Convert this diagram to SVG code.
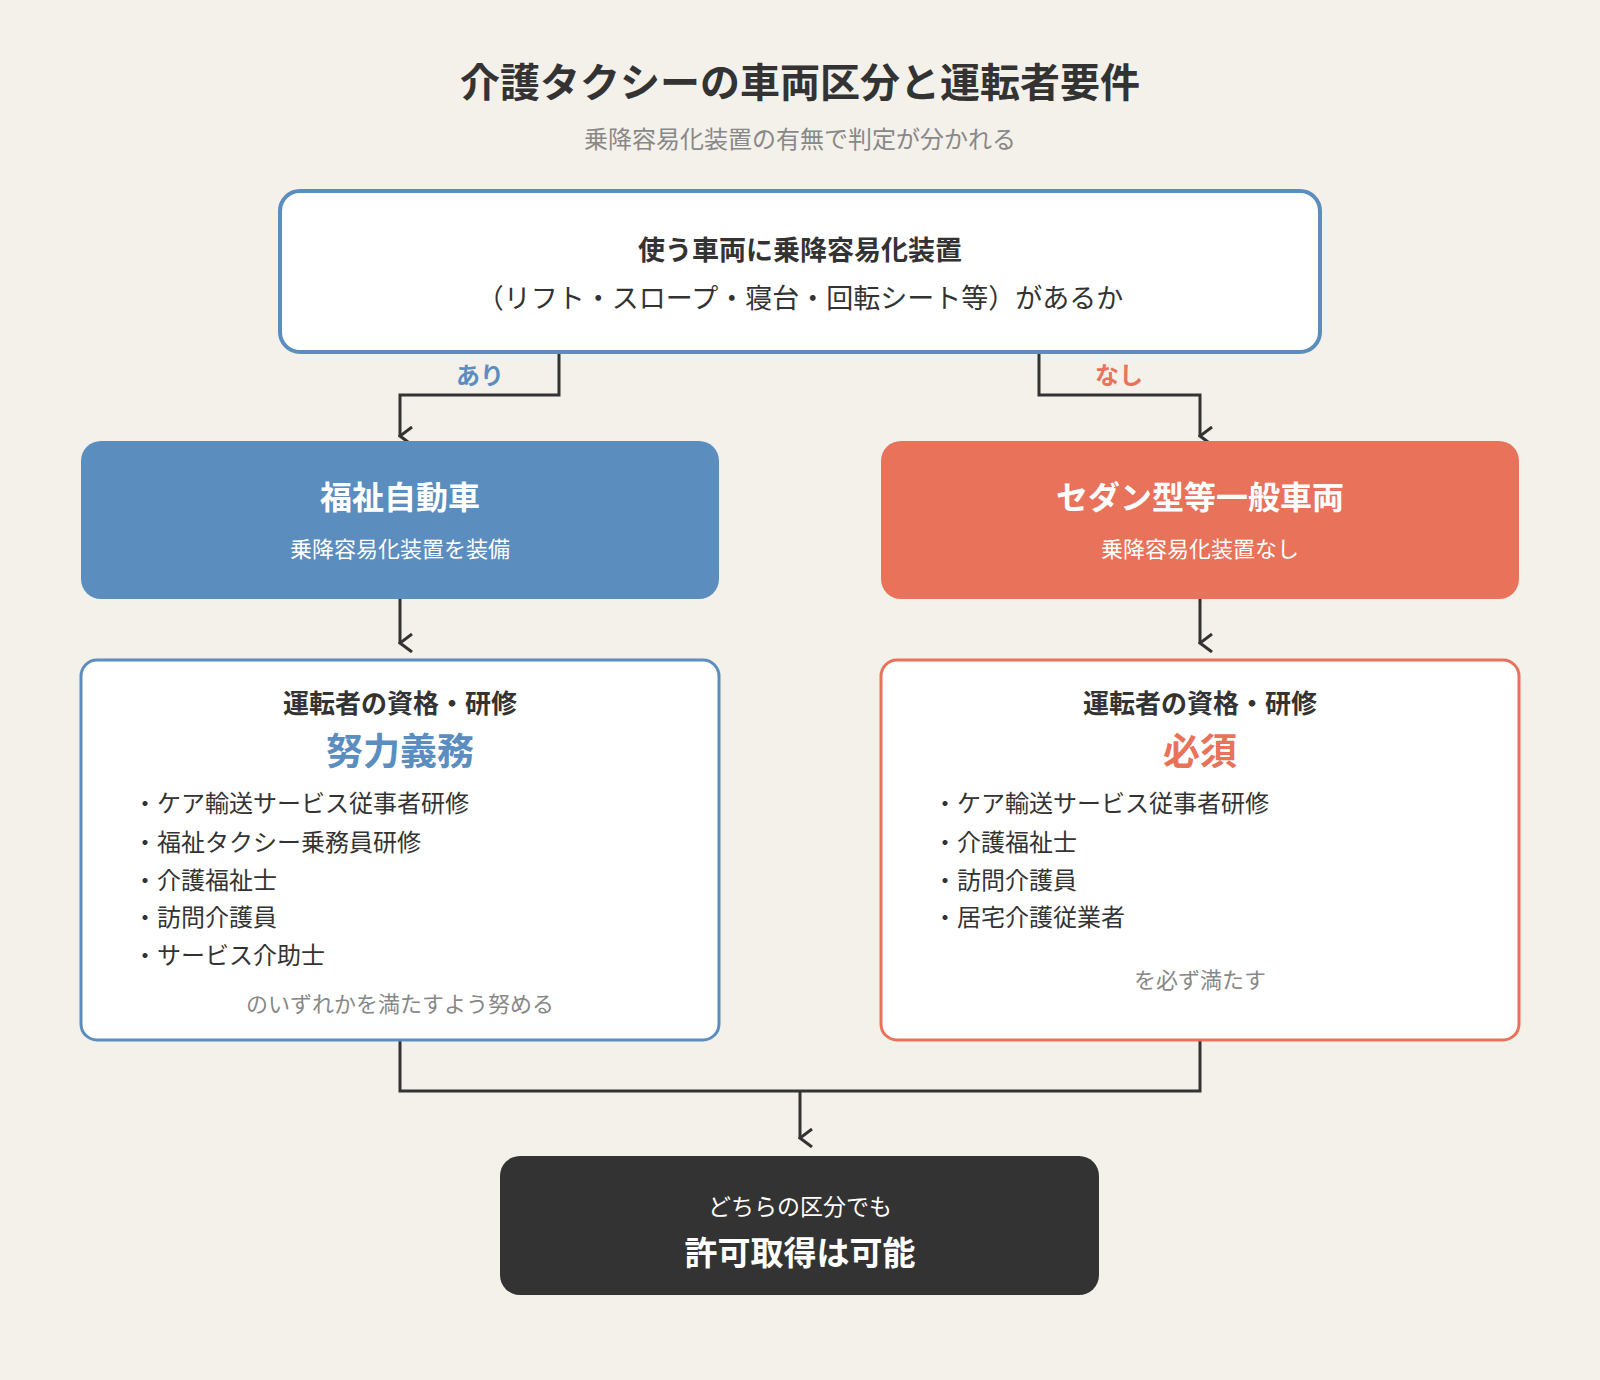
<svg xmlns="http://www.w3.org/2000/svg" width="1600" height="1380" viewBox="0 0 1600 1380">
<defs>
<style>
text{font-family:"Noto Sans CJK JP","Noto Sans",sans-serif;text-anchor:middle;dominant-baseline:central}
.b{font-weight:bold}
.li{text-anchor:start;font-size:24px;fill:#333}
.c{fill:none;stroke:#333;stroke-width:3}
</style>
<marker id="a" viewBox="0 0 20 20" refX="10" refY="18" markerWidth="20" markerHeight="20" markerUnits="userSpaceOnUse" orient="auto-start-reverse">
<path d="M1 6 L10 18 L19 6" fill="none" stroke="#333" stroke-width="3"/>
</marker>
</defs>
<rect width="1600" height="1380" fill="#f4f0ea"/>
<text x="800" y="80" class="b" font-size="40" fill="#333">介護タクシーの車両区分と運転者要件</text>
<text x="800" y="137" font-size="24" fill="#888">乗降容易化装置の有無で判定が分かれる</text>
<g id="connectors">
<path class="c" d="M559 352 V395 H400 V436" marker-end="url(#a)"/>
<path class="c" d="M1039 352 V395 H1200 V436" marker-end="url(#a)"/>
<path class="c" d="M400 599 V643" marker-end="url(#a)"/>
<path class="c" d="M1200 599 V643" marker-end="url(#a)"/>
<path class="c" d="M400 1040 V1091 H1200 V1040"/>
<path class="c" d="M800 1091 V1138" marker-end="url(#a)"/>
<text x="480" y="373" class="b" font-size="24" fill="#5b8dbf">あり</text>
<text x="1119" y="373" class="b" font-size="24" fill="#e8725a">なし</text>
</g>
<g id="q">
<rect x="280" y="191" width="1040" height="161" rx="20" fill="#fff" stroke="#5b8dbf" stroke-width="4"/>
<text x="800" y="248" class="b" font-size="27" fill="#333">使う車両に乗降容易化装置</text>
<text x="800" y="296" font-size="27" fill="#333">（リフト・スロープ・寝台・回転シート等）があるか</text>
</g>
<g id="fukushi">
<rect x="81" y="441" width="638" height="158" rx="20" fill="#5b8dbf"/>
<text x="400" y="495" class="b" font-size="32" fill="#fff">福祉自動車</text>
<text x="400" y="547" font-size="22" fill="#fff">乗降容易化装置を装備</text>
</g>
<g id="sedan">
<rect x="881" y="441" width="638" height="158" rx="20" fill="#e8725a"/>
<text x="1200" y="495" class="b" font-size="32" fill="#fff">セダン型等一般車両</text>
<text x="1200" y="547" font-size="22" fill="#fff">乗降容易化装置なし</text>
</g>
<g id="left-req">
<rect x="81" y="660" width="638" height="380" rx="16" fill="#fff" stroke="#5b8dbf" stroke-width="3"/>
<text x="400" y="701" class="b" font-size="26" fill="#333">運転者の資格・研修</text>
<text x="400" y="749" class="b" font-size="37" fill="#5b8dbf">努力義務</text>
<text x="133" y="801" class="li">・ケア輸送サービス従事者研修</text>
<text x="133" y="840" class="li">・福祉タクシー乗務員研修</text>
<text x="133" y="878" class="li">・介護福祉士</text>
<text x="133" y="915" class="li">・訪問介護員</text>
<text x="133" y="953" class="li">・サービス介助士</text>
<text x="400" y="1002" font-size="22" fill="#888">のいずれかを満たすよう努める</text>
</g>
<g id="right-req">
<rect x="881" y="660" width="638" height="380" rx="16" fill="#fff" stroke="#e8725a" stroke-width="3"/>
<text x="1200" y="701" class="b" font-size="26" fill="#333">運転者の資格・研修</text>
<text x="1200" y="749" class="b" font-size="37" fill="#e8725a">必須</text>
<text x="933" y="801" class="li">・ケア輸送サービス従事者研修</text>
<text x="933" y="840" class="li">・介護福祉士</text>
<text x="933" y="878" class="li">・訪問介護員</text>
<text x="933" y="915" class="li">・居宅介護従業者</text>
<text x="1200" y="978" font-size="22" fill="#888">を必ず満たす</text>
</g>
<g id="result">
<rect x="500" y="1156" width="599" height="139" rx="20" fill="#333"/>
<text x="800" y="1205" font-size="23" fill="#fff">どちらの区分でも</text>
<text x="800" y="1251" class="b" font-size="33" fill="#fff">許可取得は可能</text>
</g>
</svg>
